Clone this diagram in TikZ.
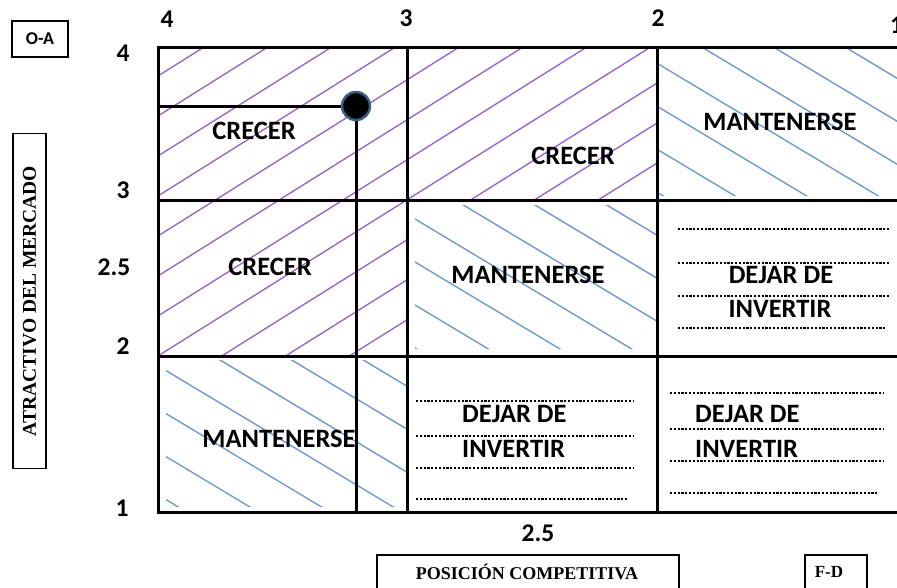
\documentclass[tikz,border=0pt]{standalone}
\usepackage{fontspec}
\setmainfont{Liberation Serif}
\newfontfamily\calfont{Carlito}
\definecolor{hpurple}{RGB}{150,95,195}
\definecolor{hblue}{RGB}{105,150,205}
\definecolor{halo}{RGB}{55,95,135}
\begin{document}
\begin{tikzpicture}[x=1pt,y=-1pt,
  lbl/.style={font=\calfont\bfseries\fontsize{26.5}{26.5}\selectfont, inner sep=0pt},
  num/.style={font=\calfont\bfseries\fontsize{25.5}{25.5}\selectfont, inner sep=0pt},
  gridline/.style={line width=3pt},
  boxline/.style={draw, line width=1.5pt},
  serifbox/.style={font=\bfseries\fontsize{18}{18}\selectfont, inner sep=0pt},
  dotline/.style={line width=2.6pt, dash pattern=on 2.2pt off 1.6pt},
  hatchp/.style={hpurple, line width=1.3pt},
  hatchb/.style={hblue, line width=1.3pt}]
\clip (0,0) rectangle (897,587);
% hatching purple (CRECER region)
\begin{scope}
  \clip (158,47) rectangle (657,200) (158,200) rectangle (407,356);
  \foreach \k in {-9,...,6}
    \draw[hatchp] (100,{455+40*\k-0.627*100}) -- (950,{455+40*\k-0.627*950});
\end{scope}
% hatching blue (MANTENERSE region)
\begin{scope}
  \clip (657,47) rectangle (897,196) (415,205) rectangle (657,349) (166,360) rectangle (407,507);
  \foreach \k in {-7,...,15}
    \draw[hatchb] (100,{-245+43*\k+0.6*100}) -- (950,{-245+43*\k+0.6*950});
\end{scope}
% grid
\coordinate (g00) at (158,47);
\coordinate (g30) at (905,47);
\coordinate (g03) at (158,512);
\coordinate (g33) at (905,512);
\coordinate (v1t) at (407,47);
\coordinate (v1b) at (407,512);
\coordinate (v2t) at (657,47);
\coordinate (v2b) at (657,512);
\coordinate (h1l) at (158,200);
\coordinate (h1r) at (905,200);
\coordinate (h2l) at (158,356);
\coordinate (h2r) at (905,356);
\draw[gridline] (g30) -- (g00) -- (g03) -- (g33);
\draw[gridline] (v1t) -- (v1b) (v2t) -- (v2b) (h1l) -- (h1r) (h2l) -- (h2r);
% point
\node[circle, fill=black, draw=halo, line width=2.5pt, minimum size=28pt, inner sep=0pt] (pt) at (356,106) {};
\coordinate (pl) at (158,106);
\coordinate (pb) at (356,512);
\draw[gridline] (pl) -- (pt.west);
\draw[gridline] (pt.south) -- (pb);
% axis numbers
\node[num] (t4) at (167,19) {4};
\node[num] (t3) at (406,18) {3};
\node[num] (t2) at (658,18) {2};
\node[num, anchor=west] (t1) at (890,25) {1};
\node[num] (l4) at (123,53) {4};
\node[num] (l3) at (123,190) {3};
\node[num] (l25) at (114,267) {2.5};
\node[num] (l2) at (123,346) {2};
\node[num] (l1) at (122,508) {1};
\node[num] (b25) at (538,533) {2.5};
% cell labels
\node[lbl] (c1) at (254,131) {CRECER};
\node[lbl] (c2) at (573,156) {CRECER};
\node[lbl] (m1) at (780,122) {MANTENERSE};
\node[lbl] (c3) at (270,267) {CRECER};
\node[lbl] (m2) at (528,275) {MANTENERSE};
\node[lbl] (d1) at (781,275) {DEJAR DE};
\node[lbl] (i1) at (780,309) {INVERTIR};
\node[lbl] (m3) at (279,439) {MANTENERSE};
\node[lbl, anchor=west] (d2) at (462,414) {DEJAR DE};
\node[lbl, anchor=west] (i2) at (462,449) {INVERTIR};
\node[lbl, anchor=west] (d3) at (695,414) {DEJAR DE};
\node[lbl, anchor=west] (i3) at (695,449) {INVERTIR};
% dotted lines
\foreach \y/\e in {229/889,263/889,296/889,328/886}
  \draw[dotline] (678,\y) -- (\e,\y);
\foreach \y/\e in {401/634,436/634,468/634,499/628}
  \draw[dotline] (416,\y) -- (\e,\y);
\foreach \y/\e in {393/884,429/884,461/884,493/879}
  \draw[dotline] (670,\y) -- (\e,\y);
% side boxes
\node[boxline, minimum width=56pt, minimum height=36pt, inner sep=0pt,
  font=\calfont\bfseries\fontsize{18}{18}\selectfont] (oa) at (40,39) {O-A};
\node[boxline, minimum width=33pt, minimum height=335pt, inner sep=0pt] (ya) at (29.5,301) {};
\node[serifbox, rotate=90] (yat) at (ya.center) {\fontsize{19.5}{19.5}\selectfont ATRACTIVO DEL MERCADO};
\node[boxline, minimum width=302pt, minimum height=50pt, inner sep=0pt] (xa) at (528,580) {};
\node[serifbox] (xat) at (527,572) {POSICIÓN COMPETITIVA};
\node[boxline, minimum width=62pt, minimum height=50pt, inner sep=0pt] (fd) at (836,580) {};
\node[serifbox, font=\bfseries\fontsize{17}{17}\selectfont] (fdt) at (829,572) {F-D};
\end{tikzpicture}
\end{document}
